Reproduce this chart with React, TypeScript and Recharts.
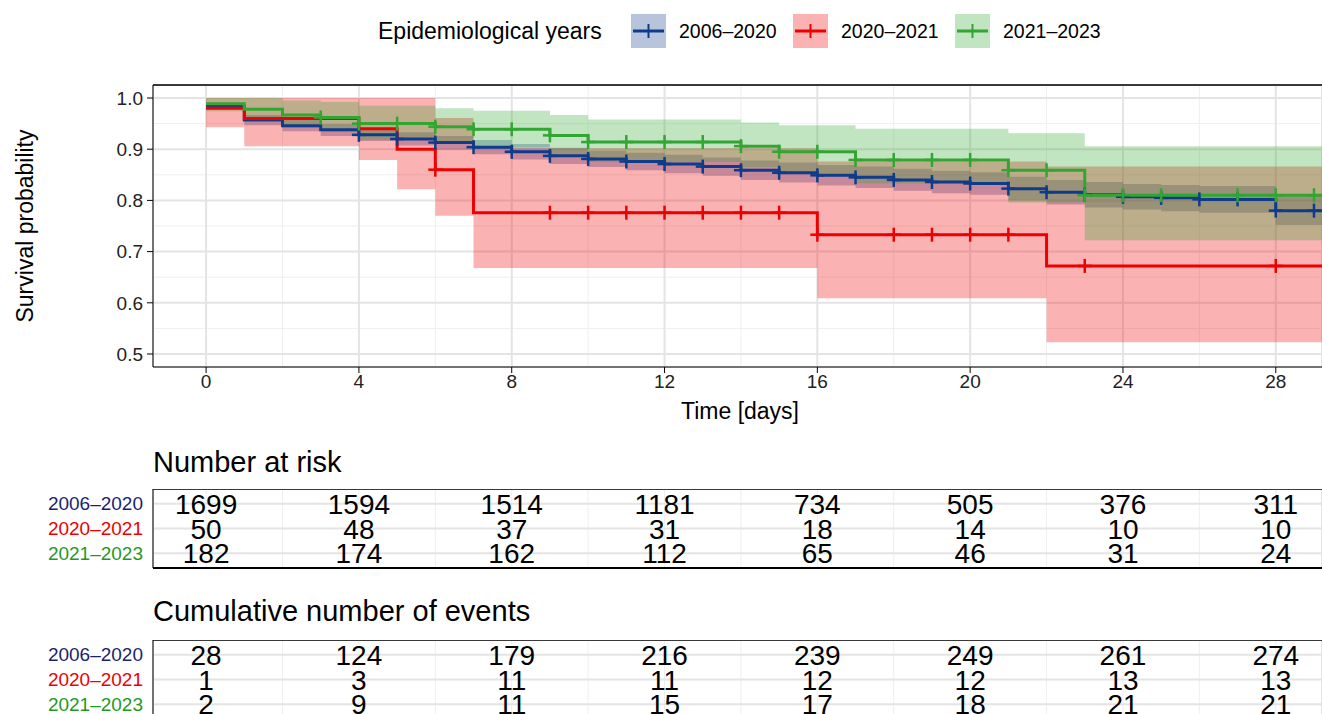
import React from 'react';
import {
  ComposedChart, Line, Area, Scatter, XAxis, YAxis, CartesianGrid, ReferenceLine,
} from 'recharts';

const FONT = '"Liberation Sans", Arial, sans-serif';

const groups = ['2006–2020', '2020–2021', '2021–2023'];
const lineColors = ['#0F3C8A', '#EE0000', '#33A532'];
const textColors = ['#1C1F6E', '#EE0000', '#1F9A1F'];

// Kaplan-Meier steps (time, survival, lower, upper), last point = right edge
const blueT = [0, 1, 2, 3, 4, 5, 6, 7, 8, 9, 10, 11, 12, 13, 14, 15, 16, 17, 18, 19, 20, 21, 22, 23, 24, 25, 26, 27, 28, 30];
const blueS = [0.984, 0.957, 0.946, 0.938, 0.928, 0.920, 0.913, 0.904, 0.895, 0.887, 0.881, 0.876, 0.871, 0.866, 0.859, 0.854, 0.849, 0.845, 0.840, 0.836, 0.833, 0.823, 0.816, 0.811, 0.807, 0.805, 0.802, 0.802, 0.780, 0.780];
const blueLo = [0.978, 0.947, 0.935, 0.926, 0.916, 0.907, 0.899, 0.890, 0.880, 0.871, 0.865, 0.859, 0.853, 0.848, 0.840, 0.835, 0.829, 0.824, 0.819, 0.814, 0.811, 0.800, 0.792, 0.786, 0.782, 0.779, 0.776, 0.776, 0.752, 0.752];
const blueHi = [0.990, 0.967, 0.957, 0.949, 0.940, 0.933, 0.926, 0.918, 0.910, 0.903, 0.897, 0.893, 0.889, 0.884, 0.878, 0.874, 0.869, 0.866, 0.862, 0.858, 0.855, 0.846, 0.840, 0.836, 0.832, 0.830, 0.828, 0.828, 0.808, 0.808];

const redT = [0, 1, 4, 5, 6, 7, 16, 22, 30];
const redS = [0.98, 0.96, 0.94, 0.90, 0.86, 0.776, 0.733, 0.672, 0.672];
const redLo = [0.943, 0.906, 0.879, 0.822, 0.770, 0.668, 0.609, 0.523, 0.523];
const redHi = [1.0, 1.0, 1.0, 1.0, 0.961, 0.902, 0.876, 0.866, 0.866];

const greenT = [0, 1, 2, 3, 4, 6, 7, 9, 10, 14, 15, 17, 21, 23, 30];
const greenS = [0.989, 0.978, 0.967, 0.962, 0.950, 0.944, 0.939, 0.927, 0.914, 0.906, 0.895, 0.879, 0.859, 0.810, 0.810];
const greenLo = [0.974, 0.957, 0.942, 0.934, 0.918, 0.911, 0.904, 0.890, 0.875, 0.865, 0.852, 0.833, 0.796, 0.722, 0.722];
const greenHi = [1.0, 1.0, 0.995, 0.992, 0.985, 0.980, 0.975, 0.967, 0.958, 0.952, 0.947, 0.940, 0.931, 0.906, 0.906];

// censoring times
const blueCensT = [4, 5, 6, 7, 8, 9, 10, 11, 12, 13, 14, 15, 16, 17, 18, 19, 20, 21, 22, 23, 24, 25, 26, 27, 28, 29];
const redCensT = [6, 9, 10, 11, 12, 13, 14, 15, 16, 18, 19, 20, 21, 23, 28];
const greenCensT = [3, 4, 5, 6, 7, 8, 9, 10, 11, 12, 13, 14, 15, 16, 17, 18, 19, 20, 21, 22, 23, 24, 25, 27, 28, 29];

// tables
const tableTimes = [0, 4, 8, 12, 16, 20, 24, 28];
const risk2006 = [1699, 1594, 1514, 1181, 734, 505, 376, 311];
const risk2020 = [50, 48, 37, 31, 18, 14, 10, 10];
const risk2021 = [182, 174, 162, 112, 65, 46, 31, 24];
const ev2006 = [28, 124, 179, 216, 239, 249, 261, 274];
const ev2020 = [1, 3, 11, 11, 12, 12, 13, 13];
const ev2021 = [2, 9, 11, 15, 17, 18, 21, 21];

const xTicks = [0, 4, 8, 12, 16, 20, 24, 28];
const xGridAll = [0, 2, 4, 6, 8, 10, 12, 14, 16, 18, 20, 22, 24, 26, 28];
const yTicks = [0.5, 0.6, 0.7, 0.8, 0.9, 1.0];
const yGridAll = [0.5, 0.55, 0.6, 0.65, 0.7, 0.75, 0.8, 0.85, 0.9, 0.95, 1.0];

const X_MIN = -1.39;
const X_MAX = 29.21;
const Y_MIN = 0.4746;
const Y_MAX = 1.0254;

const mk = (t: number[], s: number[], lo: number[], hi: number[]) =>
  t.map((x, i) => ({ t: x, s: s[i], band: [lo[i], hi[i]] }));

const stepAt = (ts: number[], vs: number[], t: number) => {
  let v = vs[0];
  for (let i = 0; i < ts.length; i++) if (ts[i] <= t) v = vs[i];
  return v;
};

const series = [
  { data: mk(blueT, blueS, blueLo, blueHi), cens: blueCensT.map((t) => ({ t, s: stepAt(blueT, blueS, t) })) },
  { data: mk(redT, redS, redLo, redHi), cens: redCensT.map((t) => ({ t, s: stepAt(redT, redS, t) })) },
  { data: mk(greenT, greenS, greenLo, greenHi), cens: greenCensT.map((t) => ({ t, s: stepAt(greenT, greenS, t) })) },
];

const cross = (color: string) => (p: any) => (
  <g>
    <line x1={p.cx - 7} x2={p.cx + 7} y1={p.cy} y2={p.cy} stroke={color} strokeWidth={2.5} />
    <line x1={p.cx} x2={p.cx} y1={p.cy - 7} y2={p.cy + 7} stroke={color} strokeWidth={2.5} />
  </g>
);

const SurvPlot = () => (
  <ComposedChart width={1322} height={430} margin={{ top: 85, right: 0, bottom: 0, left: 0 }}>
    <XAxis xAxisId="g" type="number" dataKey="t" domain={[X_MIN, X_MAX]} ticks={xGridAll} hide allowDataOverflow />
    <YAxis yAxisId="g" type="number" domain={[Y_MIN, Y_MAX]} ticks={yGridAll} hide allowDataOverflow />
    <CartesianGrid xAxisId="g" yAxisId="g" stroke="#EFEFEF" strokeWidth={1} />
    <CartesianGrid stroke="#E4E4E4" strokeWidth={2} />
    <XAxis
      type="number" dataKey="t" domain={[X_MIN, X_MAX]} ticks={xTicks} allowDataOverflow
      height={63} tickSize={6} tickMargin={2} stroke="#000"
      tick={{ fontSize: 19, fill: '#222', fontFamily: FONT }}
    />
    <YAxis
      type="number" domain={[Y_MIN, Y_MAX]} ticks={yTicks} allowDataOverflow
      width={153} tickSize={6} tickMargin={4} stroke="#000"
      tickFormatter={(v: number) => v.toFixed(1)}
      tick={{ fontSize: 19, fill: '#222', fontFamily: FONT }}
    />
    <ReferenceLine y={Y_MAX} stroke="#000" strokeWidth={1.5} ifOverflow="extendDomain" />
    {series.map((s, i) => (
      <Area
        key={'a' + i} data={s.data} dataKey="band" type="stepAfter"
        fill={lineColors[i]} fillOpacity={0.3} stroke="none" isAnimationActive={false}
      />
    ))}
    {series.map((s, i) => (
      <Line
        key={'l' + i} data={s.data} dataKey="s" type="stepAfter" stroke={lineColors[i]}
        strokeWidth={3} dot={false} activeDot={false} isAnimationActive={false}
      />
    ))}
    {series.map((s, i) => (
      <Scatter
        key={'c' + i} data={s.cens} dataKey="s" shape={cross(lineColors[i])} isAnimationActive={false}
      />
    ))}
  </ComposedChart>
);

const RowTick = (p: any) => {
  const idx = 3 - p.payload.value;
  return (
    <text x={p.x} y={p.y} dy="0.35em" textAnchor="end" fontSize={19} fontFamily={FONT} fill={textColors[idx]}>
      {groups[idx]}
    </text>
  );
};

const NumText = (p: any) => (
  <text x={p.cx} y={p.cy} dy="0.36em" textAnchor="middle" fontSize={28} fontFamily={FONT} fill="#000">
    {p.payload.label}
  </text>
);

const Table = ({ rows, height }: { rows: number[][]; height: number }) => {
  const cells = rows.flatMap((r, ri) => r.map((v, ci) => ({ t: tableTimes[ci], row: 3 - ri, label: String(v) })));
  return (
    <ComposedChart width={1322} height={height} margin={{ top: 0, right: 0, bottom: 0, left: 0 }}>
      <XAxis xAxisId="g" type="number" dataKey="t" domain={[X_MIN, X_MAX]} ticks={xGridAll} hide allowDataOverflow />
      <CartesianGrid xAxisId="g" stroke="#EFEFEF" strokeWidth={1} horizontal={false} />
      <CartesianGrid stroke="#E4E4E4" strokeWidth={2} />
      <XAxis
        type="number" dataKey="t" domain={[X_MIN, X_MAX]} ticks={xTicks} allowDataOverflow
        height={1} tick={false} tickLine={false} stroke="#000" strokeWidth={2}
      />
      <YAxis
        type="number" dataKey="row" domain={[0.4, 3.6]} ticks={[1, 2, 3]} width={153}
        tickSize={0} tickMargin={10} stroke="#000" tick={<RowTick />}
      />
      <ReferenceLine y={3.6} stroke="#000" strokeWidth={1.5} />
      <Scatter data={cells} dataKey="row" shape={NumText} isAnimationActive={false} />
    </ComposedChart>
  );
};

const LegendKey = ({ color }: { color: string }) => (
  <svg width={35} height={34} style={{ display: 'block' }}>
    <rect x={0} y={0} width={35} height={34} fill={color} fillOpacity={0.3} />
    <line x1={2} x2={33} y1={17} y2={17} stroke={color} strokeWidth={3} />
    <line x1={17.5} x2={17.5} y1={10} y2={24} stroke={color} strokeWidth={2} />
  </svg>
);

export default function App() {
  const abs = (left: number, top: number): React.CSSProperties => ({ position: 'absolute', left, top });
  return (
    <div style={{ position: 'absolute', left: 0, top: 0, width: 1322, height: 714, overflow: 'hidden', background: '#fff', fontFamily: FONT }}>
      {/* legend */}
      <div style={{ ...abs(378, 16), fontSize: 23, lineHeight: '30px', color: '#000' }}>Epidemiological years</div>
      <div style={abs(631, 14)}><LegendKey color={lineColors[0]} /></div>
      <div style={{ ...abs(679, 17), fontSize: 19.5, lineHeight: '28px' }}>{groups[0]}</div>
      <div style={abs(793, 14)}><LegendKey color={lineColors[1]} /></div>
      <div style={{ ...abs(841, 17), fontSize: 19.5, lineHeight: '28px' }}>{groups[1]}</div>
      <div style={abs(955, 14)}><LegendKey color={lineColors[2]} /></div>
      <div style={{ ...abs(1003, 17), fontSize: 19.5, lineHeight: '28px' }}>{groups[2]}</div>

      <div style={abs(0, 0)}><SurvPlot /></div>

      {/* axis titles */}
      <div style={{ position: 'absolute', left: 25, top: 226, transform: 'translate(-50%, -50%) rotate(-90deg)', fontSize: 23, whiteSpace: 'nowrap' }}>
        Survival probability
      </div>
      <div style={{ position: 'absolute', left: 740, top: 411, transform: 'translate(-50%, -50%)', fontSize: 23, whiteSpace: 'nowrap' }}>
        Time [days]
      </div>

      {/* tables */}
      <div style={{ ...abs(153, 445), fontSize: 29, lineHeight: '34px' }}>Number at risk</div>
      <div style={abs(0, 489)}><Table rows={[risk2006, risk2020, risk2021]} height={80} /></div>
      <div style={{ ...abs(153, 594), fontSize: 29, lineHeight: '34px' }}>Cumulative number of events</div>
      <div style={abs(0, 640)}><Table rows={[ev2006, ev2020, ev2021]} height={80} /></div>
    </div>
  );
}
